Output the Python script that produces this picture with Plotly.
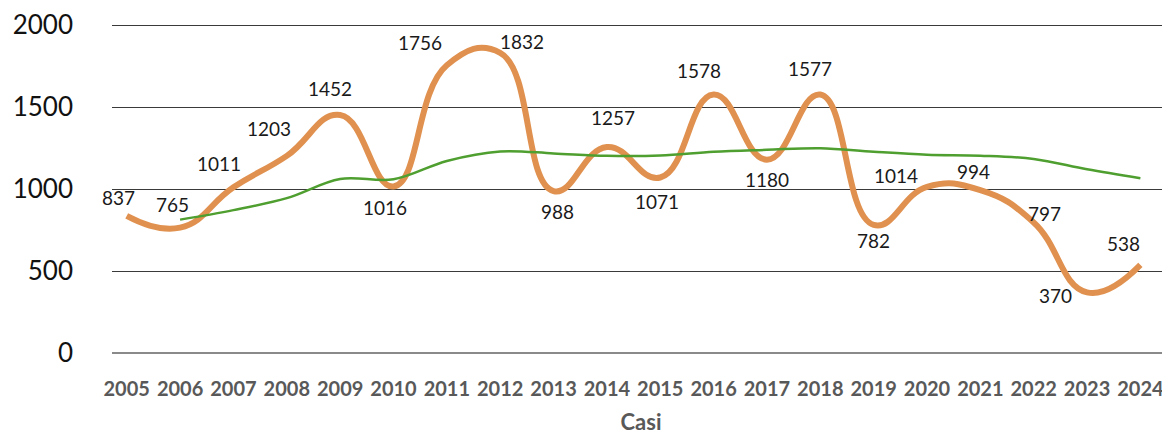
import plotly.graph_objects as go

years = [2005, 2006, 2007, 2008, 2009, 2010, 2011, 2012, 2013, 2014,
         2015, 2016, 2017, 2018, 2019, 2020, 2021, 2022, 2023, 2024]
casi = [837, 765, 1011, 1203, 1452, 1016, 1756, 1832, 988, 1257,
        1071, 1578, 1180, 1577, 782, 1014, 994, 797, 370, 538]
trend_years = [2006, 2007, 2008, 2009, 2010, 2011, 2012, 2013, 2014, 2015,
               2016, 2017, 2018, 2019, 2020, 2021, 2022, 2023, 2024]
trend = [814, 872, 945, 1062, 1060, 1172, 1230, 1218, 1203, 1205,
         1228, 1240, 1250, 1228, 1210, 1204, 1184, 1121, 1067]
y_ticks = [0, 500, 1000, 1500, 2000]

# label offsets (pixels) relative to each point
label_dx = [-8, -8, -14, -18, -10, -8, -27, 22, 4, 6, -3, -15, 0, -10, 0, -31, -7, 11, -32, -17]
label_dy = [-18, -23, -24, -27, -27, 21, -23, -11, 20, -30, 24, -24, 20, -26, 16, -11, -19, -9, 3, -21]

fig = go.Figure()
fig.add_trace(go.Scatter(
    x=years, y=casi, mode="lines",
    line=dict(color="#E0914F", width=6, shape="spline", smoothing=1.3),
    hoverinfo="x+y", showlegend=False))
fig.add_trace(go.Scatter(
    x=trend_years, y=trend, mode="lines",
    line=dict(color="#4E9F2F", width=2.5, shape="spline", smoothing=1.0),
    hoverinfo="x+y", showlegend=False))

for xv, yv, dx, dy in zip(years, casi, label_dx, label_dy):
    fig.add_annotation(x=xv, y=yv, text=str(yv), showarrow=False,
                       xshift=dx, yshift=-dy,
                       font=dict(family="Lato", size=19, color="#1a1a1a"))

# page body has an 8px margin: compensate so the chart fills 1170x435
fig.update_layout(
    width=1162, height=427,
    margin=dict(l=104, r=0, t=14, b=74),
    plot_bgcolor="white", paper_bgcolor="white",
    xaxis=dict(
        range=[2004.724, 2024.555],
        tickmode="array", tickvals=years, ticktext=[str(y) for y in years],
        showgrid=False, zeroline=False, showline=False, ticks="",
        ticklabelstandoff=22,
        tickfont=dict(family="Lato", size=20, color="#595959", weight="bold"),
        title=dict(text="<b>Casi</b>", standoff=20,
                   font=dict(family="Lato", size=22, color="#595959")),
    ),
    yaxis=dict(
        range=[0, 2020],
        tickmode="array", tickvals=y_ticks,
        showgrid=True, gridcolor="#3a3a3a", gridwidth=1,
        zeroline=True, zerolinecolor="#8a8a8a", zerolinewidth=2,
        showline=False, ticks="", ticklabelstandoff=38,
        tickfont=dict(family="Lato", size=26, color="#111111"),
    ),
)

fig.write_html("out.html")
